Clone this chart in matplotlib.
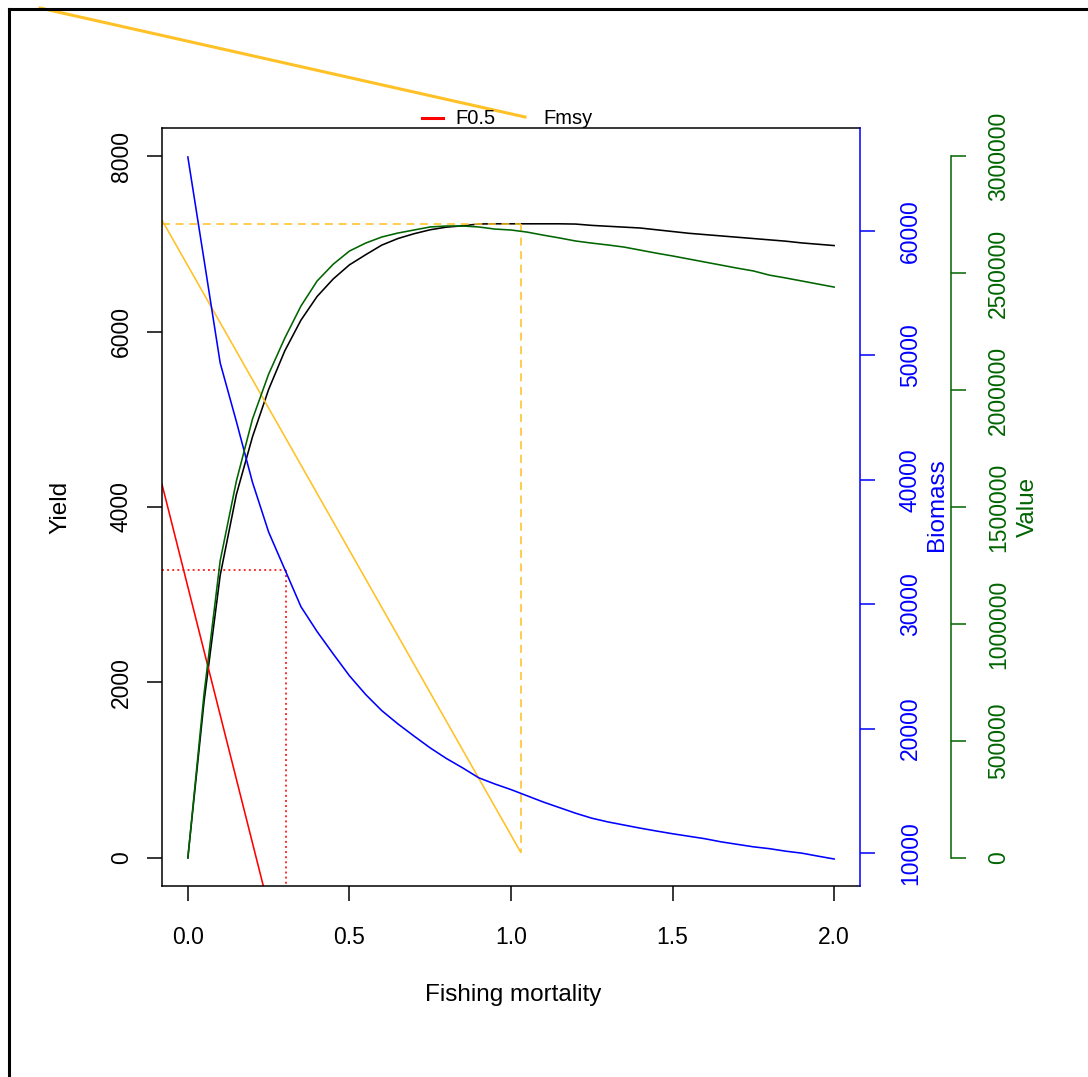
import matplotlib
matplotlib.use('Agg')
import matplotlib.pyplot as plt
from matplotlib.lines import Line2D
import numpy as np

plt.rcParams['font.family'] = ['Liberation Sans', 'DejaVu Sans']

# fishing mortality grid and the three curves
F = np.linspace(0, 2, 41)
yield_vals = [0, 1780, 3220, 4140, 4800, 5340, 5780, 6130, 6400, 6600,
              6760, 6875, 6985, 7060, 7115, 7160, 7190, 7205, 7226, 7228,
              7228, 7228, 7228, 7228, 7225, 7210, 7200, 7190, 7180, 7160,
              7140, 7120, 7105, 7090, 7075, 7060, 7045, 7030, 7010, 6995, 6980]
biomass_vals = [65950, 57700, 49400, 44700, 39800, 35800, 32800, 29800, 27800, 26000,
                24250, 22750, 21450, 20380, 19400, 18450, 17600, 16850, 16050, 15550,
                15100, 14600, 14100, 13650, 13200, 12800, 12500, 12250, 12000, 11770,
                11550, 11350, 11150, 10900, 10700, 10500, 10350, 10150, 9990, 9750, 9520]
value_vals = [0, 0.70e6, 1.27e6, 1.61e6, 1.876e6, 2.068e6, 2.222e6, 2.359e6, 2.466e6, 2.538e6,
              2.594e6, 2.628e6, 2.654e6, 2.671e6, 2.684e6, 2.697e6, 2.701e6, 2.701e6, 2.697e6, 2.688e6,
              2.684e6, 2.675e6, 2.662e6, 2.650e6, 2.637e6, 2.628e6, 2.620e6, 2.611e6, 2.598e6, 2.585e6,
              2.573e6, 2.560e6, 2.547e6, 2.534e6, 2.521e6, 2.509e6, 2.491e6, 2.479e6, 2.466e6, 2.453e6, 2.440e6]

# reference points
f05, y_f05 = 0.304, 3282
fmsy, y_fmsy, y_fmsy_low = 1.03, 7225, 70
red_line = (3090, -14600)      # intercept, slope
orange_line = (6750, -6490)

xticks = [0.0, 0.5, 1.0, 1.5, 2.0]
xticklabels = ["0.0", "0.5", "1.0", "1.5", "2.0"]
yticks = [0, 2000, 4000, 6000, 8000]
bticks = [10000, 20000, 30000, 40000, 50000, 60000]
vticks = [0, 500000, 1000000, 1500000, 2000000, 2500000, 3000000]

orange = '#FFC125'
dgreen = '#006400'
W, H = 1088, 1077
fs = 16.5
fs_lab = 17.5

fig = plt.figure(figsize=(W / 100, H / 100), dpi=100)
ax = fig.add_axes([162 / W, 1 - 886 / H, (860 - 162) / W, (886 - 128) / H])
xlim = (-0.08, 2.08)
ax.set_xlim(*xlim)
ax.set_ylim(-320, 8320)

ax.plot(F, yield_vals, color='black', lw=1.15)
ax.plot([xlim[0], fmsy], [y_fmsy, y_fmsy], color=orange, lw=1.15, dashes=(5, 3.5))
ax.plot([fmsy, fmsy], [y_fmsy, y_fmsy_low], color=orange, lw=1.15, dashes=(5, 3.5))
ax.plot([xlim[0], f05], [y_f05, y_f05], color='red', lw=1.15, dashes=(1.2, 2))
ax.plot([f05, f05], [y_f05, -400], color='red', lw=1.15, dashes=(1.2, 2))
ax.axline((0, red_line[0]), slope=red_line[1], color='red', lw=1.15)
ox = np.array([xlim[0], fmsy])
ax.plot(ox, orange_line[0] + orange_line[1] * ox, color=orange, lw=1.15)

ax.set_xticks(xticks)
ax.set_xticklabels(xticklabels)
ax.set_yticks(yticks)
ax.set_yticklabels([str(v) for v in yticks])
ax.tick_params(axis='both', direction='out', length=11, width=1.1, labelsize=fs)
ax.tick_params(axis='x', pad=18)
ax.tick_params(axis='y', pad=10, labelrotation=90)
for lbl in ax.get_yticklabels():
    lbl.set_va('center')
for s in ['left', 'bottom', 'top']:
    ax.spines[s].set_linewidth(1.1)
ax.spines['right'].set_visible(False)

# biomass axis
ax2 = ax.twinx()
ax2.plot(F, biomass_vals, color='blue', lw=1.15)
ax2.set_ylim(7350, 68280)
ax2.set_yticks(bticks)
ax2.set_yticklabels([str(v) for v in bticks])
ax2.tick_params(axis='y', colors='blue', direction='out', length=11, width=1.1,
                labelsize=fs, pad=17, labelrotation=90)
for lbl in ax2.get_yticklabels():
    lbl.set_va('center')
ax2.spines['right'].set_color('blue')
ax2.spines['right'].set_linewidth(1.1)
for s in ['left', 'bottom', 'top']:
    ax2.spines[s].set_visible(False)

# value axis
ax3 = ax.twinx()
ax3.plot(F, value_vals, color=dgreen, lw=1.15)
ax3.set_ylim(-120000, 3120000)
ax3.set_yticks(vticks)
ax3.set_yticklabels([str(v) for v in vticks])
ax3.spines['right'].set_position(('outward', 91 * 0.72))
ax3.spines['right'].set_bounds(0, 3000000)
ax3.spines['right'].set_color(dgreen)
ax3.spines['right'].set_linewidth(1.1)
for s in ['left', 'bottom', 'top']:
    ax3.spines[s].set_visible(False)
ax3.tick_params(axis='y', colors=dgreen, direction='out', length=11, width=1.1,
                labelsize=fs, pad=15, labelrotation=90)
for lbl in ax3.get_yticklabels():
    lbl.set_va('center')

# axis titles
fig.text(60 / W, 1 - 507 / H, "Yield", rotation=90, ha='center', va='center', fontsize=fs_lab)
fig.text(513 / W, 1 - 995 / H, "Fishing mortality", ha='center', va='center', fontsize=fs_lab)
fig.text(937 / W, 1 - 505 / H, "Biomass", rotation=90, ha='center', va='center',
         fontsize=fs_lab, color='blue')
fig.text(1028 / W, 1 - 507 / H, "Value", rotation=90, ha='center', va='center',
         fontsize=fs_lab, color=dgreen)

# legend (as it came out in the original device)
fig.add_artist(Line2D([422 / W, 443 / W], [1 - 118 / H, 1 - 118 / H], color='red', lw=2.2))
fig.text(455 / W, 1 - 118 / H, "F0.5", ha='left', va='center', fontsize=14.5)
fig.add_artist(Line2D([40 / W, 525 / W], [1 - 8 / H, 1 - 117 / H], color=orange, lw=2.2))
fig.text(543 / W, 1 - 118 / H, "Fmsy", ha='left', va='center', fontsize=14.5)

# outer frame edges
fig.add_artist(Line2D([9 / W, 1], [1 - 9 / H, 1 - 9 / H], color='black', lw=2.2))
fig.add_artist(Line2D([9 / W, 9 / W], [0, 1 - 9 / H], color='black', lw=2.2))

fig.savefig('out.png', dpi=100)
